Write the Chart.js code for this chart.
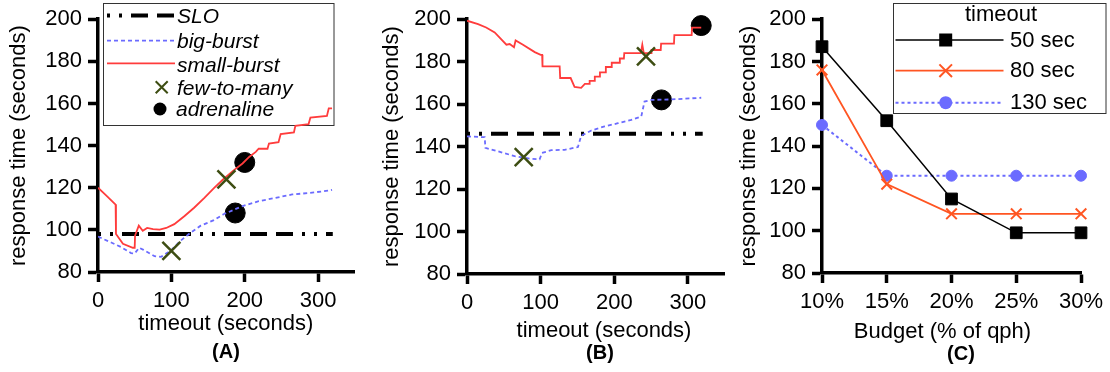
<!DOCTYPE html>
<html><head><meta charset="utf-8">
<script src="https://cdn.jsdelivr.net/npm/chart.js@4.4.1/dist/chart.umd.min.js"></script>
<style>
html,body{margin:0;padding:0;background:#fff;}
#wrap{position:relative;width:1110px;height:372px;overflow:hidden;background:#fff;}
.pane{position:absolute;top:0;}
.lbl{position:absolute;font:bold 20px "Liberation Sans",Arial,sans-serif;color:#000;text-align:center;width:60px;line-height:20px;}
</style></head><body>
<div id="wrap">
 <canvas id="cA" class="pane" width="370" height="372" style="left:0px"></canvas>
 <canvas id="cB" class="pane" width="370" height="372" style="left:370px"></canvas>
 <canvas id="cC" class="pane" width="380" height="372" style="left:730px"></canvas>
 <div class="lbl" style="left:196px;top:341px">(A)</div>
 <div class="lbl" style="left:570px;top:342px">(B)</div>
 <div class="lbl" style="left:931px;top:343px">(C)</div>
</div>
<script>
// ---------------- data ----------------
const xTicksAB = [0, 100, 200, 300];
const yTicks = [80, 100, 120, 140, 160, 180, 200];

// Panel A
const aSmallX = [0, 10, 24, 24.5, 34, 47.5, 50, 50.5, 55.6, 61, 67, 75, 84, 93, 104, 118, 131, 145, 158, 170, 184, 197, 206, 215, 219, 231, 233, 246, 249, 267, 269, 287, 289.5, 312, 314.5, 319];
const aSmallY = [120, 116.7, 112, 98, 93.4, 91.5, 91.5, 97.3, 102, 99.6, 100.9, 100.4, 100.1, 100.9, 102.7, 106.6, 110.5, 115.2, 119.8, 123.8, 128, 131.5, 134.6, 137, 138.5, 138.5, 141, 141.6, 145.5, 146.3, 149.4, 150.2, 153.3, 154.1, 157.7, 157.7];
const aBigX = [0, 18, 31.7, 45, 50, 56, 62, 77, 86, 99.6, 113, 126.7, 140, 158, 171, 197, 219, 242, 264.6, 287, 314, 319];
const aBigY = [96.8, 94, 91.8, 89, 88.8, 91.5, 90.5, 87.5, 87.2, 90.3, 95, 98.8, 102, 104.6, 107.4, 111.3, 113.6, 115.2, 116.8, 117.5, 118.6, 119];
const aSloX = [0, 320];
const aSloY = [98, 98];
const aFewX = [100, 175];
const aFewY = [90, 124];
const aAdrX = [200, 187];
const aAdrY = [132, 108];

// Panel B
const bSmallX = [0, 15, 26, 37.6, 53.5, 58, 63.8, 66, 76, 92, 100, 102, 102.5, 125.8, 126.5, 140.7, 146, 155, 160, 166, 166.5, 173, 173.5, 180, 180.5, 188, 188.5, 196, 196.5, 207, 207.5, 213, 213.5, 236, 238, 240, 250, 250.5, 263, 263.5, 281, 281.5, 305, 305.5, 318];
const bSmallY = [199.3, 197.7, 196.1, 193.8, 188, 188.3, 186.8, 190, 188, 184.5, 183.2, 183.2, 177.8, 177.8, 172.3, 172.3, 168.1, 167.7, 169.5, 169.5, 171, 171, 173, 173, 175, 175, 177.5, 177.5, 179.5, 179.5, 181.5, 181.5, 184, 184, 188, 184, 184, 185.5, 185.5, 188.5, 188.5, 192.5, 192.5, 196, 196];
const bBigX = [0, 19.5, 24, 25, 42, 64.7, 87.4, 98.6, 101.8, 114.5, 132.6, 150.6, 155, 168.8, 186.8, 205, 223, 236.6, 241, 250, 277, 318];
const bBigY = [144.8, 144.5, 144.5, 139.4, 137.8, 135.5, 134.2, 134, 137, 138.3, 138.5, 139.8, 145.1, 147.6, 149.5, 151, 152.6, 154.2, 161.2, 162, 162.2, 163];
const bSloX = [0, 320];
const bSloY = [146, 146];
const bFewX = [77, 243];
const bFewY = [135, 182.5];
const bAdrX = [264, 318];
const bAdrY = [162, 197];

// Panel C
const budgetCats = ['10%', '15%', '20%', '25%', '30%'];
const t50 = [187, 152, 115, 99, 99];
const t80 = [176, 122, 108, 108, 108];
const t130 = [150, 126, 126, 126, 126];

// ---------------- styling ----------------
const FONT = '"Liberation Sans", Arial, Helvetica, sans-serif';
const RED = '#ff3c3c', BLUE = '#6b6bff', OLIVE = '#3d4d12', ORANGE = '#ff5522';
const SLO_DASH = [3, 9, 3, 9, 17, 9, 17, 9, 17, 9];
Chart.defaults.font.family = FONT;
Chart.defaults.color = '#000';

const pts = (xs, ys) => xs.map((x, i) => ({x: x, y: ys[i]}));

function axisCommon() {
  return {
    border: {display: true, color: '#000', width: 3.5},
    grid: {display: true, drawOnChartArea: false, drawTicks: true, tickLength: 10, tickWidth: 3.5, tickColor: '#000', color: '#000'},
  };
}
function yScale(width, padTop) {
  return Object.assign(axisCommon(), {
    type: 'linear', min: 80, max: 200,
    afterBuildTicks: s => { s.ticks = yTicks.map(v => ({value: v})); },
    afterFit: s => { s.width = width; },
    ticks: {color: '#000', font: {family: FONT, size: 22}, padding: 6},
    title: {display: true, text: 'response time (seconds)', color: '#000', font: {family: FONT, size: 22}, padding: {top: padTop, bottom: 0}}
  });
}
function xLinScale(height) {
  return Object.assign(axisCommon(), {
    type: 'linear', min: 0, max: 350,
    afterBuildTicks: s => { s.ticks = xTicksAB.map(v => ({value: v})); },
    afterFit: s => { s.height = height; },
    ticks: {color: '#000', font: {family: FONT, size: 22}, padding: 6, maxRotation: 0, autoSkip: false},
    title: {display: false}
  });
}
function xTitlePlugin(text, x, baseline) {
  return {id: 'xTitle', afterDraw(chart) {
    const c = chart.ctx; c.save();
    c.font = '22px ' + FONT; c.fillStyle = '#000'; c.textAlign = 'center'; c.textBaseline = 'alphabetic';
    c.fillText(text, x, baseline); c.restore();
  }};
}
function drawX(c, x, y, half, color, lw) {
  c.save(); c.strokeStyle = color; c.lineWidth = lw; c.setLineDash([]);
  c.beginPath(); c.moveTo(x - half, y - half); c.lineTo(x + half, y + half);
  c.moveTo(x - half, y + half); c.lineTo(x + half, y - half); c.stroke(); c.restore();
}
function drawDot(c, x, y, r, color) {
  c.save(); c.fillStyle = color; c.beginPath(); c.arc(x, y, r, 0, Math.PI * 2); c.fill(); c.restore();
}
function drawSeg(c, x1, x2, y, color, lw, dash) {
  c.save(); c.strokeStyle = color; c.lineWidth = lw; c.setLineDash(dash || []);
  c.beginPath(); c.moveTo(x1, y); c.lineTo(x2, y); c.stroke(); c.restore();
}

function lineDatasets(prefix, smallX, smallY, bigX, bigY, sloX, sloY, fewX, fewY, adrX, adrY) {
  return [
    {label: 'SLO', data: pts(sloX, sloY), borderColor: '#000', borderWidth: 4, borderDash: SLO_DASH, borderCapStyle: 'butt', pointRadius: 0, order: 5},
    {label: 'big-burst', data: pts(bigX, bigY), borderColor: BLUE, borderWidth: 1.8, borderDash: [4, 3], pointRadius: 0, order: 3},
    {label: 'small-burst', data: pts(smallX, smallY), borderColor: RED, borderWidth: 1.8, pointRadius: 0, order: 2},
    {label: 'few-to-many', data: pts(fewX, fewY), showLine: false, pointStyle: 'crossRot', pointRadius: 12.7, pointBorderWidth: 2.5, pointBorderColor: OLIVE, pointBackgroundColor: OLIVE, clip: false, order: 1},
    {label: 'adrenaline', data: pts(adrX, adrY), showLine: false, pointStyle: 'circle', pointRadius: 10, pointBorderWidth: 1, pointBorderColor: '#000', pointBackgroundColor: '#000', clip: false, order: 6}
  ];
}
const baseOpts = {responsive: false, animation: false, events: [], plugins: {legend: {display: false}, tooltip: {enabled: false}}};

// ---------------- Panel A ----------------
const legendA = {id: 'legendA', beforeDatasetsDraw(chart) {
  const c = chart.ctx; c.save();
  c.fillStyle = '#fff'; c.fillRect(103.5, 3.5, 230.5, 122);
  c.strokeStyle = '#333'; c.lineWidth = 1; c.strokeRect(103.5, 3.5, 230.5, 122);
  drawSeg(c, 107, 175, 15.5, '#000', 4, SLO_DASH);
  drawSeg(c, 107, 175, 40.7, BLUE, 1.8, [4, 3]);
  drawSeg(c, 107, 175, 63.3, RED, 1.8);
  drawX(c, 161.7, 87.3, 6, OLIVE, 2);
  drawDot(c, 160, 109, 6.5, '#000');
  c.font = 'italic 21px ' + FONT; c.fillStyle = '#000'; c.textAlign = 'left'; c.textBaseline = 'alphabetic';
  c.fillText('SLO', 177, 23.3);
  c.fillText('big-burst', 177, 48.3);
  c.fillText('small-burst', 177, 71.7);
  c.fillText('few-to-many', 177, 95);
  c.fillText('adrenaline', 176, 115.5);
  c.restore();
}};
new Chart(document.getElementById('cA'), {
  type: 'line',
  data: {datasets: lineDatasets('a', aSmallX, aSmallY, aBigX, aBigY, aSloX, aSloY, aFewX, aFewY, aAdrX, aAdrY)},
  options: Object.assign({}, baseOpts, {
    layout: {padding: {left: 0, right: 14, top: 15, bottom: 0}},
    scales: {x: xLinScale(100), y: yScale(98, 5.5)}
  }),
  plugins: [legendA, xTitlePlugin('timeout (seconds)', 225.8, 329.7)]
});

// ---------------- Panel B ----------------
new Chart(document.getElementById('cB'), {
  type: 'line',
  data: {datasets: lineDatasets('b', bSmallX, bSmallY, bBigX, bBigY, bSloX, bSloY, bFewX, bFewY, bAdrX, bAdrY)},
  options: Object.assign({}, baseOpts, {
    layout: {padding: {left: 0, right: 15, top: 17, bottom: 0}},
    scales: {x: xLinScale(98), y: yScale(97, 8.9)}
  }),
  plugins: [xTitlePlugin('timeout (seconds)', 234, 336.7)]
});

// ---------------- Panel C ----------------
const legendC = {id: 'legendC', afterDatasetsDraw(chart) {
  const c = chart.ctx; c.save();
  const ox = -730;
  c.fillStyle = '#fff'; c.fillRect(893.5 + ox, 3.5, 212.5, 110);
  c.strokeStyle = '#333'; c.lineWidth = 1; c.strokeRect(893.5 + ox, 3.5, 212.5, 110);
  const mx = 945.7 + ox;
  drawSeg(c, 895.5 + ox, 1003.5 + ox, 40, '#000', 1.5);
  c.fillStyle = '#000'; c.fillRect(mx - 6.5, 40 - 6.5, 13, 13);
  drawSeg(c, 895.5 + ox, 1003.5 + ox, 70.7, ORANGE, 1.8);
  drawX(c, mx, 70.7, 6.3, ORANGE, 2);
  drawSeg(c, 895.5 + ox, 1003.5 + ox, 102.7, BLUE, 2, [3, 3]);
  drawDot(c, mx, 102.7, 6.5, BLUE);
  c.font = '22px ' + FONT; c.fillStyle = '#000'; c.textBaseline = 'alphabetic';
  c.textAlign = 'center'; c.fillText('timeout', 1001 + ox, 20.7);
  c.textAlign = 'left';
  c.fillText('50 sec', 1010 + ox, 46.7);
  c.fillText('80 sec', 1010 + ox, 77.3);
  c.fillText('130 sec', 1010 + ox, 108.5);
  c.restore();
}};
const xCat = Object.assign(axisCommon(), {
  type: 'category', offset: false,
  afterFit: s => { s.height = 99; },
  ticks: {color: '#000', font: {family: FONT, size: 22}, padding: 6, maxRotation: 0, autoSkip: false},
  title: {display: false}
});
xCat.grid.offset = false;
new Chart(document.getElementById('cC'), {
  type: 'line',
  data: {labels: budgetCats, datasets: [
    {label: '50 sec', data: t50, borderColor: '#000', backgroundColor: '#000', borderWidth: 1.5, pointStyle: 'rect', pointRadius: 8.3, pointBorderWidth: 1, pointBackgroundColor: '#000', pointBorderColor: '#000', clip: false, order: 1},
    {label: '80 sec', data: t80, borderColor: ORANGE, backgroundColor: ORANGE, borderWidth: 1.8, pointStyle: 'crossRot', pointRadius: 7.5, pointBorderWidth: 2, pointBorderColor: ORANGE, clip: false, order: 2},
    {label: '130 sec', data: t130, borderColor: BLUE, backgroundColor: BLUE, borderWidth: 2, borderDash: [3, 3], pointStyle: 'circle', pointRadius: 5.5, pointBorderWidth: 1, pointBackgroundColor: BLUE, pointBorderColor: BLUE, clip: false, order: 3}
  ]},
  options: Object.assign({}, baseOpts, {
    layout: {padding: {left: 0, right: 29, top: 15, bottom: 0}},
    scales: {x: xCat, y: yScale(92, 5.4)}
  }),
  plugins: [legendC, xTitlePlugin('Budget (% of qph)', 212.5, 338.2)]
});
</script>
</body></html>
